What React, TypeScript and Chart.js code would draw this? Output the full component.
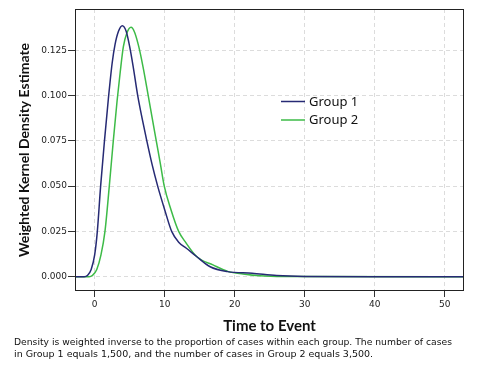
import React, { useEffect, useRef } from "react";
import { Chart, registerables } from "chart.js";
Chart.register(...registerables);

const seriesLabels = ["Group 1", "Group 2"];
const seriesColors = ["#262a74", "#3dbb47"];

const group1X = [-2.81, -1.5, -1.0, -0.5, 0.0, 0.38, 0.85, 1.4, 1.95, 2.5, 2.9, 3.4, 3.95, 4.5, 5.0, 5.5, 6.15, 6.8, 7.45, 8.2, 9.0, 10.0, 11.0, 12.0, 13.1, 14.6, 16.5, 19.0, 22.5, 26.0, 30.0, 40.0, 52.76];
const group1Y = [0, 0, 0.0008, 0.004, 0.012, 0.025, 0.05, 0.075, 0.098, 0.118, 0.128, 0.1355, 0.1386, 0.1355, 0.127, 0.116, 0.1, 0.087, 0.075, 0.062, 0.05, 0.037, 0.025, 0.019, 0.0157, 0.011, 0.0055, 0.0028, 0.0019, 0.0006, 0.0001, 0, 0];

const group2X = [-2.81, -0.8, -0.3, 0.3, 0.9, 1.47, 2.09, 2.66, 3.2, 3.65, 4.1, 4.6, 5.19, 5.7, 6.3, 6.9, 7.65, 8.2, 8.8, 9.4, 9.94, 10.9, 12.0, 12.9, 14.6, 16.9, 19.1, 21.2, 23.6, 27.0, 52.76];
const group2Y = [0, 0, 0.0008, 0.004, 0.012, 0.025, 0.05, 0.075, 0.097, 0.113, 0.127, 0.1345, 0.1377, 0.135, 0.127, 0.116, 0.1, 0.088, 0.075, 0.062, 0.05, 0.037, 0.025, 0.0195, 0.011, 0.0065, 0.0028, 0.0015, 0.0005, 0.0001, 0];

const xTicks = [0, 10, 20, 30, 40, 50];
const yTicks = [0, 0.025, 0.05, 0.075, 0.1, 0.125];
const xRange = [-2.81, 52.76];
const yRange = [-0.0079, 0.1478];

const xTitle = "Time to Event";
const yTitle = "Weighted Kernel Density Estimate";
const footnoteLines = [
  "Density is weighted inverse to the proportion of cases within each group. The number of cases",
  "in Group 1 equals 1,500, and the number of cases in Group 2 equals 3,500.",
];

export default function App() {
  const ref = useRef<HTMLCanvasElement>(null);
  useEffect(() => {
    document.body.style.margin = "0";
    const overlay = {
      id: "overlay",
      afterDatasetsDraw(chart: any) {
        const { ctx, chartArea } = chart;
        ctx.save();
        ctx.strokeStyle = "#222";
        ctx.lineWidth = 1;
        ctx.strokeRect(chartArea.left + 0.5, chartArea.top + 0.5, chartArea.right - chartArea.left - 1, chartArea.bottom - chartArea.top - 1);
        // legend
        const lx = 281, tx = 309;
        const lys = [101.5, 120];
        ctx.font = "13px 'Noto Sans'";
        ctx.textBaseline = "middle";
        ctx.textAlign = "left";
        chart.data.datasets.forEach((ds: any, i: number) => {
          ctx.strokeStyle = ds.borderColor;
          ctx.lineWidth = 1.5;
          ctx.beginPath();
          ctx.moveTo(lx, lys[i]);
          ctx.lineTo(lx + 24, lys[i]);
          ctx.stroke();
          ctx.fillStyle = "#111";
          ctx.fillText(ds.label, tx, lys[i] + 0.5);
        });
        // footnote
        ctx.font = "9.5px 'DejaVu Sans'";
        ctx.fillStyle = "#111";
        ctx.fillText(footnoteLines[0], 14, 343, 438);
        ctx.fillText(footnoteLines[1], 14, 354.5);
        ctx.restore();
      },
    };
    const chart = new Chart(ref.current as HTMLCanvasElement, {
      type: "line",
      data: {
        datasets: [
          {
            label: seriesLabels[0],
            data: group1X.map((x, i) => ({ x, y: group1Y[i] })),
            borderColor: seriesColors[0],
            borderWidth: 1.5,
            pointRadius: 0,
            fill: false,
            cubicInterpolationMode: "monotone",
          },
          {
            label: seriesLabels[1],
            data: group2X.map((x, i) => ({ x, y: group2Y[i] })),
            borderColor: seriesColors[1],
            borderWidth: 1.5,
            pointRadius: 0,
            fill: false,
            cubicInterpolationMode: "monotone",
          },
        ],
      },
      options: {
        animation: false,
        responsive: false,
        events: [],
        layout: { padding: { left: 0, top: 9, right: 15, bottom: 0 } },
        plugins: { legend: { display: false }, tooltip: { enabled: false } },
        scales: {
          x: {
            type: "linear",
            min: xRange[0],
            max: xRange[1],
            afterBuildTicks: (s: any) => {
              s.ticks = xTicks.map((v) => ({ value: v }));
            },
            afterFit: (s: any) => {
              s.height = 93;
            },
            grid: { color: "#dcdcdc", lineWidth: 1, drawTicks: true, tickLength: 6, tickColor: "#333", tickWidth: 1, tickBorderDash: [] },
            border: { display: false, dash: [4, 3] },
            ticks: { font: { family: "DejaVu Sans", size: 9 }, color: "#222", padding: 2, maxRotation: 0, callback: (v: any) => String(v) },
            title: {
              display: true,
              text: xTitle,
              font: { family: "Lato", size: 15, weight: "bold" },
              color: "#111",
              padding: { top: 0, bottom: 49 },
            },
          },
          y: {
            type: "linear",
            min: yRange[0],
            max: yRange[1],
            afterBuildTicks: (s: any) => {
              s.ticks = yTicks.map((v) => ({ value: v }));
            },
            afterFit: (s: any) => {
              s.width = 75;
            },
            grid: { color: "#dcdcdc", lineWidth: 1, drawTicks: true, tickLength: 7, tickColor: "#333", tickWidth: 1, tickBorderDash: [] },
            border: { display: false, dash: [4, 3] },
            ticks: { font: { family: "DejaVu Sans", size: 9 }, color: "#222", padding: 1, callback: (v: any) => Number(v).toFixed(3) },
            title: {
              display: true,
              text: yTitle,
              font: { family: "Lato", size: 14, weight: "bold" },
              color: "#111",
              padding: { top: 15.6, bottom: 0 },
            },
          },
        },
      },
      plugins: [overlay],
    } as any);
    return () => chart.destroy();
  }, []);
  return <canvas ref={ref} width={479} height={384} style={{ display: "block" }} />;
}
